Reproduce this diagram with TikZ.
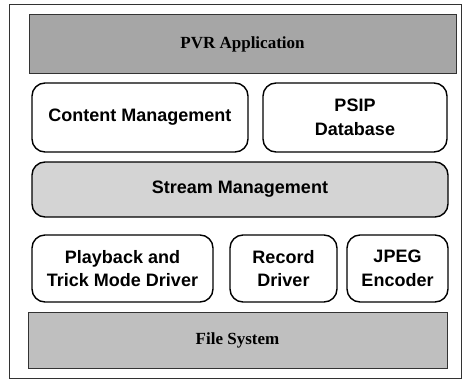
\documentclass[tikz,border=0pt]{standalone}
\usepackage{fontspec}
\setmainfont{Liberation Serif}
\setsansfont{Liberation Sans}
\begin{document}
\begin{tikzpicture}[x=1pt,y=-1pt,
  flat/.style={draw=black!80,line width=0.9pt,inner sep=0pt,font=\rmfamily\bfseries\fontsize{17}{19}\selectfont},
  rbox/.style={draw=black,line width=1.4pt,rounded corners=13pt,inner sep=0pt,align=center,
     font=\sffamily\bfseries\fontsize{18}{23.5}\selectfont},
]
\useasboundingbox (0,0) rectangle (465,383);
\draw[line width=0.9pt,black!80] (9,4) rectangle (461,378);
\node[flat,fill=black!35,minimum width=427pt,minimum height=59pt] (pvr) at (242.5,44) {PVR Application};
\node[rbox,minimum width=216pt,minimum height=69pt] (cm) at (140,117.5) {Content Management};
\node[rbox,minimum width=184pt,minimum height=69pt] (psip) at (355,117.5) {PSIP\\Database};
\node[rbox,fill=black!17,minimum width=416pt,minimum height=55pt] (sm) at (240,189.5) {Stream Management};
\node[rbox,minimum width=181pt,minimum height=67pt] (pb) at (122.5,268.5) {Playback and\\Trick Mode Driver};
\node[rbox,minimum width=107pt,minimum height=67pt] (rd) at (283.5,268.5) {Record\\Driver};
\node[rbox,minimum width=101pt,minimum height=67pt] (jp) at (397.5,268.5) {JPEG\\Encoder};
\node[flat,fill=black!25,minimum width=419pt,minimum height=56pt] (fs) at (237.5,340) {File System};
\end{tikzpicture}
\end{document}
